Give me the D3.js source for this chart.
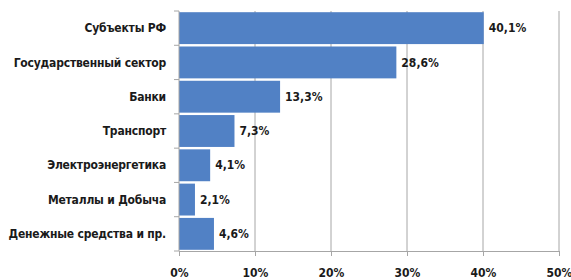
<!DOCTYPE html>
<html>
<head>
<meta charset="utf-8">
<script src="https://cdn.jsdelivr.net/npm/d3@7"></script>
<style>
	body { margin: 0; background: #fff; }
	text { font-family: "DejaVu Sans Condensed", "DejaVu Sans", sans-serif; font-weight: bold; fill: #1a1a1a; }
</style>
</head>
<body>
<div id="chart"></div>
<script>
// categories top to bottom
var categories = ["Субъекты РФ", "Государственный сектор", "Банки", "Транспорт",
	"Электроэнергетика", "Металлы и Добыча", "Денежные средства и пр."];
// share, %
var shares = [40.1, 28.6, 13.3, 7.3, 4.1, 2.1, 4.6];
var xTicks = [0, 10, 20, 30, 40, 50];

function drawChart() {
	var margin = {top: 11, right: 12, bottom: 29, left: 179},
		width = 571 - margin.left - margin.right,
		height = 280 - margin.top - margin.bottom;

	var svg = d3.select("#chart")
		.append("svg")
		.attr("width", 571)
		.attr("height", 280)
		.append("g")
		.attr("transform", "translate(" + margin.left + "," + margin.top + ")");

	var data = categories.map((c, i) => ({name: c, value: shares[i]}));

	var x = d3.scaleLinear().domain([0, 50]).range([0, width]);
	var y = d3.scaleBand().domain(categories).range([0, height]).paddingInner(0.07).paddingOuter(0.035);

	// vertical gridlines
	svg.append("g")
		.selectAll("line")
		.data(xTicks.slice(1))
		.join("line")
		.attr("x1", d => x(d)).attr("x2", d => x(d))
		.attr("y1", 0).attr("y2", height)
		.attr("stroke", "#a6a6a6").attr("stroke-width", 1);

	// bars
	svg.append("g")
		.selectAll("rect")
		.data(data)
		.join("rect")
		.attr("x", x(0))
		.attr("y", d => y(d.name))
		.attr("width", d => x(d.value) - x(0))
		.attr("height", y.bandwidth())
		.attr("fill", "#5181c5");

	// value labels
	svg.append("g")
		.selectAll("text")
		.data(data)
		.join("text")
		.attr("x", d => x(d.value) + 5)
		.attr("y", d => y(d.name) + y.bandwidth() / 2)
		.attr("dy", "0.35em")
		.style("font-size", "12px")
		.text(d => d.value.toFixed(1).replace(".", ",") + "%");

	// x axis
	var xAxis = svg.append("g")
		.attr("transform", "translate(0," + height + ")")
		.call(d3.axisBottom(x).tickValues(xTicks).tickFormat(d => d + "%").tickSize(5).tickSizeOuter(0));
	xAxis.select(".domain").attr("stroke", "#a6a6a6");
	xAxis.selectAll(".tick line").attr("stroke", "#a6a6a6");
	xAxis.selectAll(".tick text").attr("y", 17).style("font-size", "12px").style("font-family", null).attr("fill", "#1a1a1a");

	// y axis
	var bandEdges = categories.map(c => y(c) - y.step() * y.paddingInner() / 2).concat([height]);
	var yAxis = svg.append("g");
	yAxis.append("line")
		.attr("x1", 0).attr("x2", 0).attr("y1", 0).attr("y2", height)
		.attr("stroke", "#a6a6a6");
	yAxis.selectAll("line.tk")
		.data(bandEdges)
		.join("line")
		.attr("class", "tk")
		.attr("x1", -5).attr("x2", 0)
		.attr("y1", d => d).attr("y2", d => d)
		.attr("stroke", "#a6a6a6");
	yAxis.selectAll("text")
		.data(categories)
		.join("text")
		.attr("x", -13)
		.attr("y", d => y(d) + y.bandwidth() / 2)
		.attr("dy", "0.35em")
		.attr("text-anchor", "end")
		.style("font-size", "12px")
		.style("letter-spacing", "-0.2px")
		.text(d => d);
}

drawChart();
</script>
</body>
</html>
